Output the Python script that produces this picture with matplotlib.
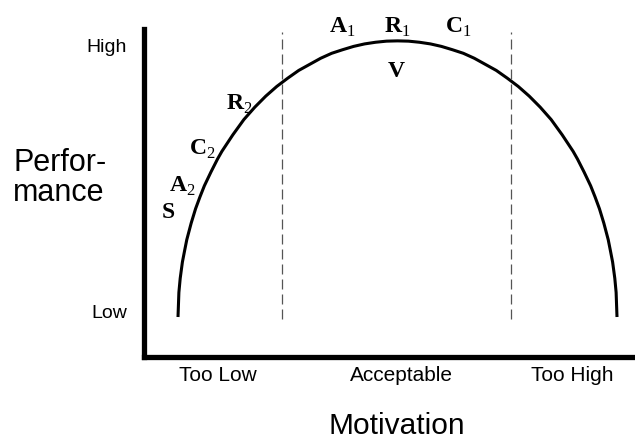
import matplotlib
matplotlib.use("Agg")
import matplotlib.pyplot as plt

plt.rcParams['font.family'] = ['Liberation Sans', 'DejaVu Sans']
plt.rcParams['mathtext.fontset'] = 'custom'
plt.rcParams['mathtext.rm'] = 'Liberation Serif'
plt.rcParams['mathtext.bf'] = 'Liberation Serif:bold'

# performance curve (motivation 0-10, performance 0-10)
motivation = [0, 0.02, 0.05, 0.1, 0.15, 0.2, 0.3, 0.4, 0.5, 0.6, 0.75, 0.9, 1, 1.25, 1.5,
              1.75, 2, 2.25, 2.5, 2.75, 3, 3.25, 3.5, 3.75, 4, 4.25, 4.5, 4.75, 5,
              5.25, 5.5, 5.75, 6, 6.25, 6.5, 6.75, 7, 7.25, 7.5, 7.75, 8, 8.25, 8.5,
              8.75, 9, 9.1, 9.25, 9.4, 9.5, 9.6, 9.7, 9.8, 9.85, 9.9, 9.95, 9.98, 10]
performance = [0, 0.89, 1.4, 1.99, 2.4, 2.8, 3.4, 3.92, 4.35, 4.75, 5.25, 5.72, 6.0, 6.6, 7.15,
               7.6, 8.0, 8.35, 8.65, 8.93, 9.15, 9.37, 9.55, 9.68, 9.8, 9.89, 9.95, 9.99, 10,
               9.99, 9.95, 9.89, 9.8, 9.68, 9.55, 9.37, 9.15, 8.93, 8.65, 8.35, 8.0, 7.6, 7.15,
               6.6, 6.0, 5.72, 5.25, 4.75, 4.35, 3.92, 3.4, 2.8, 2.4, 1.99, 1.4, 0.89, 0]

zone_bounds = [2.38, 7.58]
zone_labels = ["Too Low", "Acceptable", "Too High"]
zone_label_x = [0.91, 5.08, 8.97]
perf_labels = ["Low", "High"]
perf_label_y = [0.25, 9.86]

# letter markers along the curve: (text, x, baseline y)
marks = [
    (r"$\mathbf{A}_1$", 3.74, 10.33),
    (r"$\mathbf{R}_1$", 5.0, 10.33),
    (r"$\mathbf{C}_1$", 6.38, 10.33),
    (r"$\mathbf{V}$", 4.97, 8.73),
    (r"$\mathbf{R}_2$", 1.39, 7.54),
    (r"$\mathbf{C}_2$", 0.55, 5.91),
    (r"$\mathbf{A}_2$", 0.11, 4.57),
    (r"$\mathbf{S}$", -0.23, 3.62),
]

fig = plt.figure(figsize=(6.35, 4.39), dpi=100)
ax = fig.add_axes([143.5 / 635, 1 - 357.5 / 439, (635 - 143.5) / 635, (357.5 - 30) / 439])

ax.plot(motivation, performance, color="black", linewidth=2.2, solid_capstyle="butt",
        solid_joinstyle="round")

for xb in zone_bounds:
    ax.plot([xb, xb], [-0.07, 10.33], color="#555555", linewidth=0.9,
            dashes=(8, 4))

for txt, x, y in marks:
    ax.text(x, y, txt, ha="center", va="baseline", fontsize=17, color="black")

ax.set_xlim(-0.786, 10.41)
ax.set_ylim(-1.43, 10.43)

for side in ["top", "right"]:
    ax.spines[side].set_visible(False)
for side in ["left", "bottom"]:
    ax.spines[side].set_linewidth(3.8)
    ax.spines[side].set_capstyle("projecting")

ax.set_xticks(zone_label_x)
ax.set_xticklabels(zone_labels, fontsize=15)
ax.set_yticks(perf_label_y)
ax.set_yticklabels(perf_labels, fontsize=14)
ax.tick_params(axis="x", length=0, pad=6)
ax.tick_params(axis="y", length=0, pad=12)

fig.text(397 / 635, 1 - 434 / 439, "Motivation", ha="center", va="baseline", fontsize=21.5)
fig.text(13 / 635, 1 - 178 / 439, "Perfor-\nmance", ha="left", va="center",
         fontsize=22, linespacing=1.0)

fig.savefig("out.png", dpi=100)
